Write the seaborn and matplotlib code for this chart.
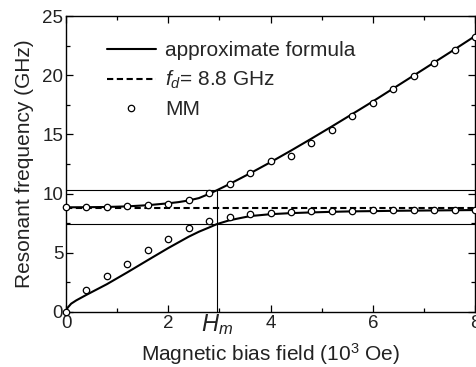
import numpy as np
import pandas as pd
import matplotlib
matplotlib.use('Agg')
import matplotlib.pyplot as plt
from matplotlib.ticker import MultipleLocator
import seaborn as sns

# approximate formula - upper / lower branch
h_up = [0.0, 0.4, 0.8, 1.2, 1.6, 2.0, 2.2, 2.4, 2.6, 2.8, 2.95, 3.2, 3.6, 4.0,
        4.4, 4.8, 5.2, 5.6, 6.0, 6.5, 7.0, 7.5, 8.0]
f_up = [8.84, 8.85, 8.87, 8.92, 9.02, 9.18, 9.28, 9.42, 9.62, 9.98, 10.28, 10.81,
        11.71, 12.65, 13.63, 14.64, 15.67, 16.72, 17.78, 19.15, 20.52, 21.9, 23.3]
h_low = [0.0, 0.03, 0.1, 0.2, 0.4, 0.8, 1.2, 1.6, 2.0, 2.4, 2.6, 2.8, 2.95, 3.2,
         3.6, 4.0, 4.4, 4.8, 5.2, 5.6, 6.0, 6.5, 7.0, 7.5, 8.0]
f_low = [0.0, 0.35, 0.7, 0.98, 1.45, 2.35, 3.35, 4.38, 5.4, 6.36, 6.78, 7.14, 7.42,
         7.75, 8.1, 8.26, 8.35, 8.41, 8.46, 8.5, 8.52, 8.55, 8.57, 8.59, 8.61]

# MM (circles)
h_mm = [0.0, 0.4, 0.8, 1.2, 1.6, 2.0, 2.4, 2.8, 3.2, 3.6, 4.0, 4.4, 4.8, 5.2,
        5.6, 6.0, 6.4, 6.8, 7.2, 7.6, 8.0]
mm_up = [8.84, 8.84, 8.87, 8.93, 9.04, 9.16, 9.46, 10.03, 10.85, 11.78, 12.78, 13.2,
         14.3, 15.4, 16.55, 17.67, 18.85, 19.9, 21.0, 22.1, 23.24]
mm_low = [0.03, 1.83, 3.04, 4.08, 5.24, 6.17, 7.07, 7.69, 8.05, 8.28, 8.39, 8.47,
          8.53, 8.56, 8.56, 8.59, 8.59, 8.59, 8.59, 8.59, 8.62]

f_d = 8.8
H_m = 2.95
f_hi = 10.28
f_lo = 7.43

sns.set_style('ticks')
plt.rcParams['font.family'] = ['Liberation Sans', 'DejaVu Sans']
plt.rcParams['mathtext.fontset'] = 'custom'
plt.rcParams['mathtext.rm'] = 'Liberation Sans'
plt.rcParams['mathtext.it'] = 'Liberation Sans:italic'

txt = '#222222'
fig = plt.figure(figsize=(4.77, 3.67), dpi=100)
ax = fig.add_axes([0.1384, 0.1499, 0.8574, 0.8065])

# thin guide lines
ax.axhline(f_hi, color='black', lw=0.8, zorder=1)
ax.axhline(f_lo, color='black', lw=0.8, zorder=1)
ax.plot([H_m, H_m], [0, f_hi], color='black', lw=0.8, zorder=1)

up = pd.DataFrame({'H': h_up, 'f': f_up})
low = pd.DataFrame({'H': h_low, 'f': f_low})
sns.lineplot(data=up, x='H', y='f', ax=ax, color='black', lw=1.5,
             label='approximate formula', zorder=3)
sns.lineplot(data=low, x='H', y='f', ax=ax, color='black', lw=1.5, zorder=3)
ax.plot([0, 8], [f_d, f_d], color='black', lw=1.5, ls=(0, (3.0, 1.7)),
        label=r'$f_d$= 8.8 GHz', zorder=2)

mm = pd.DataFrame({'H': h_mm + h_mm, 'f': mm_up + mm_low})
ax.plot(mm['H'], mm['f'], ls='none', marker='o', ms=4.6, mfc='white',
        mec='black', mew=0.9, label='MM', zorder=4, clip_on=False)

ax.set_xlim(0, 8)
ax.set_ylim(0, 25)
ax.xaxis.set_major_locator(MultipleLocator(2))
ax.xaxis.set_minor_locator(MultipleLocator(1))
ax.yaxis.set_major_locator(MultipleLocator(5))
ax.yaxis.set_minor_locator(MultipleLocator(2.5))
ax.tick_params(which='both', direction='in', top=True, right=True,
               labelsize=13.5, color='black', labelcolor=txt)
ax.tick_params(which='major', length=5, width=0.9, pad=2)
ax.tick_params(which='minor', length=3, width=0.9)
for s in ax.spines.values():
    s.set_linewidth(1.0)
    s.set_color('black')

ax.set_xlabel(r'Magnetic bias field (10$^3$ Oe)', fontsize=15, labelpad=7, color=txt)
ax.set_ylabel('Resonant frequency (GHz)', fontsize=15, labelpad=6, color=txt)
ax.text(H_m, -0.05, r'$H_m$', ha='center', va='top', fontsize=17, color=txt)

ax.legend(loc='upper left', frameon=False, fontsize=15, handlelength=2.35,
          handletextpad=0.45, labelspacing=0.42, borderaxespad=0, borderpad=0,
          bbox_to_anchor=(0.1, 0.915))

fig.savefig('out.png', dpi=100)
